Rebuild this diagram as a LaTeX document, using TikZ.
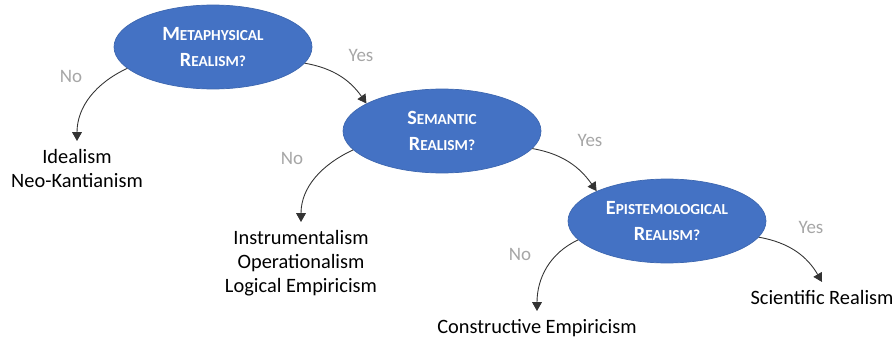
\documentclass[tikz,border=0pt]{standalone}
\usepackage{fontspec}
\setmainfont{Carlito}
\usetikzlibrary{shapes.geometric,arrows.meta}

\definecolor{qblue}{HTML}{4472C4}
\definecolor{ansgray}{HTML}{A6A6A6}
\newcommand{\capsc}[2]{#1{\fontsize{8.7}{8.7}\selectfont #2}}

\tikzset{
  question/.style={ellipse, fill=qblue, draw=qblue!90!black, line width=0.4pt,
    minimum width=3.96cm, minimum height=1.68cm, inner sep=0pt, text=white,
    font=\bfseries\fontsize{11.5}{14.6}\selectfont, align=center},
  answer/.style={font=\fontsize{11.6}{13.6}\selectfont, align=center, inner sep=0pt, outer sep=5pt},
  choice/.style={text=ansgray, font=\fontsize{10.8}{12}\selectfont},
  flow/.style={-{Triangle[width=5.5pt,length=5pt]}, line width=0.5pt, draw=black!80}
}

\begin{document}
\begin{tikzpicture}[x=0.02cm,y=0.02cm]
  \useasboundingbox (0,0) rectangle (895,-341);
  % questions
  \node[question] (meta) at (213,-47) {\capsc{M}{ETAPHYSICAL}\\\capsc{R}{EALISM?}};
  \node[question] (sem) at (442,-131) {\capsc{S}{EMANTIC}\\\capsc{R}{EALISM?}};
  \node[question] (epi) at (667,-221) {\capsc{E}{PISTEMOLOGICAL}\\\capsc{R}{EALISM?}};
  % outcomes
  \node[answer, anchor=north] (ideal) at (77,-141) {Idealism\\Neo-Kantianism};
  \node[answer, anchor=north] (instr) at (301,-222) {Instrumentalism\\Operationalism\\Logical Empiricism};
  \node[answer, anchor=north] (constr) at (537,-311) {Constructive Empiricism};
  \node[answer, anchor=north] (sci) at (822,-282) {Scientific Realism};
  % yes / no
  \node[choice] (no1) at (71,-76) {No};
  \node[choice] (yes1) at (361,-55) {Yes};
  \node[choice] (no2) at (292,-158) {No};
  \node[choice] (yes2) at (590,-140) {Yes};
  \node[choice] (no3) at (520,-254) {No};
  \node[choice] (yes3) at (811,-227) {Yes};
  % arrows
  \draw[flow] (meta.194) to[out=205,in=90] (ideal.north);
  \draw[flow] (meta.-10) to[out=-10,in=125] (sem.160);
  \draw[flow] (sem.192) to[out=205,in=90] (instr.north);
  \draw[flow] (sem.-11) to[out=-10,in=125] (epi.157);
  \draw[flow] (epi.192) to[out=205,in=90] (constr.north);
  \draw[flow] (epi.-10) to[out=-10,in=120] (sci.north);
\end{tikzpicture}
\end{document}
